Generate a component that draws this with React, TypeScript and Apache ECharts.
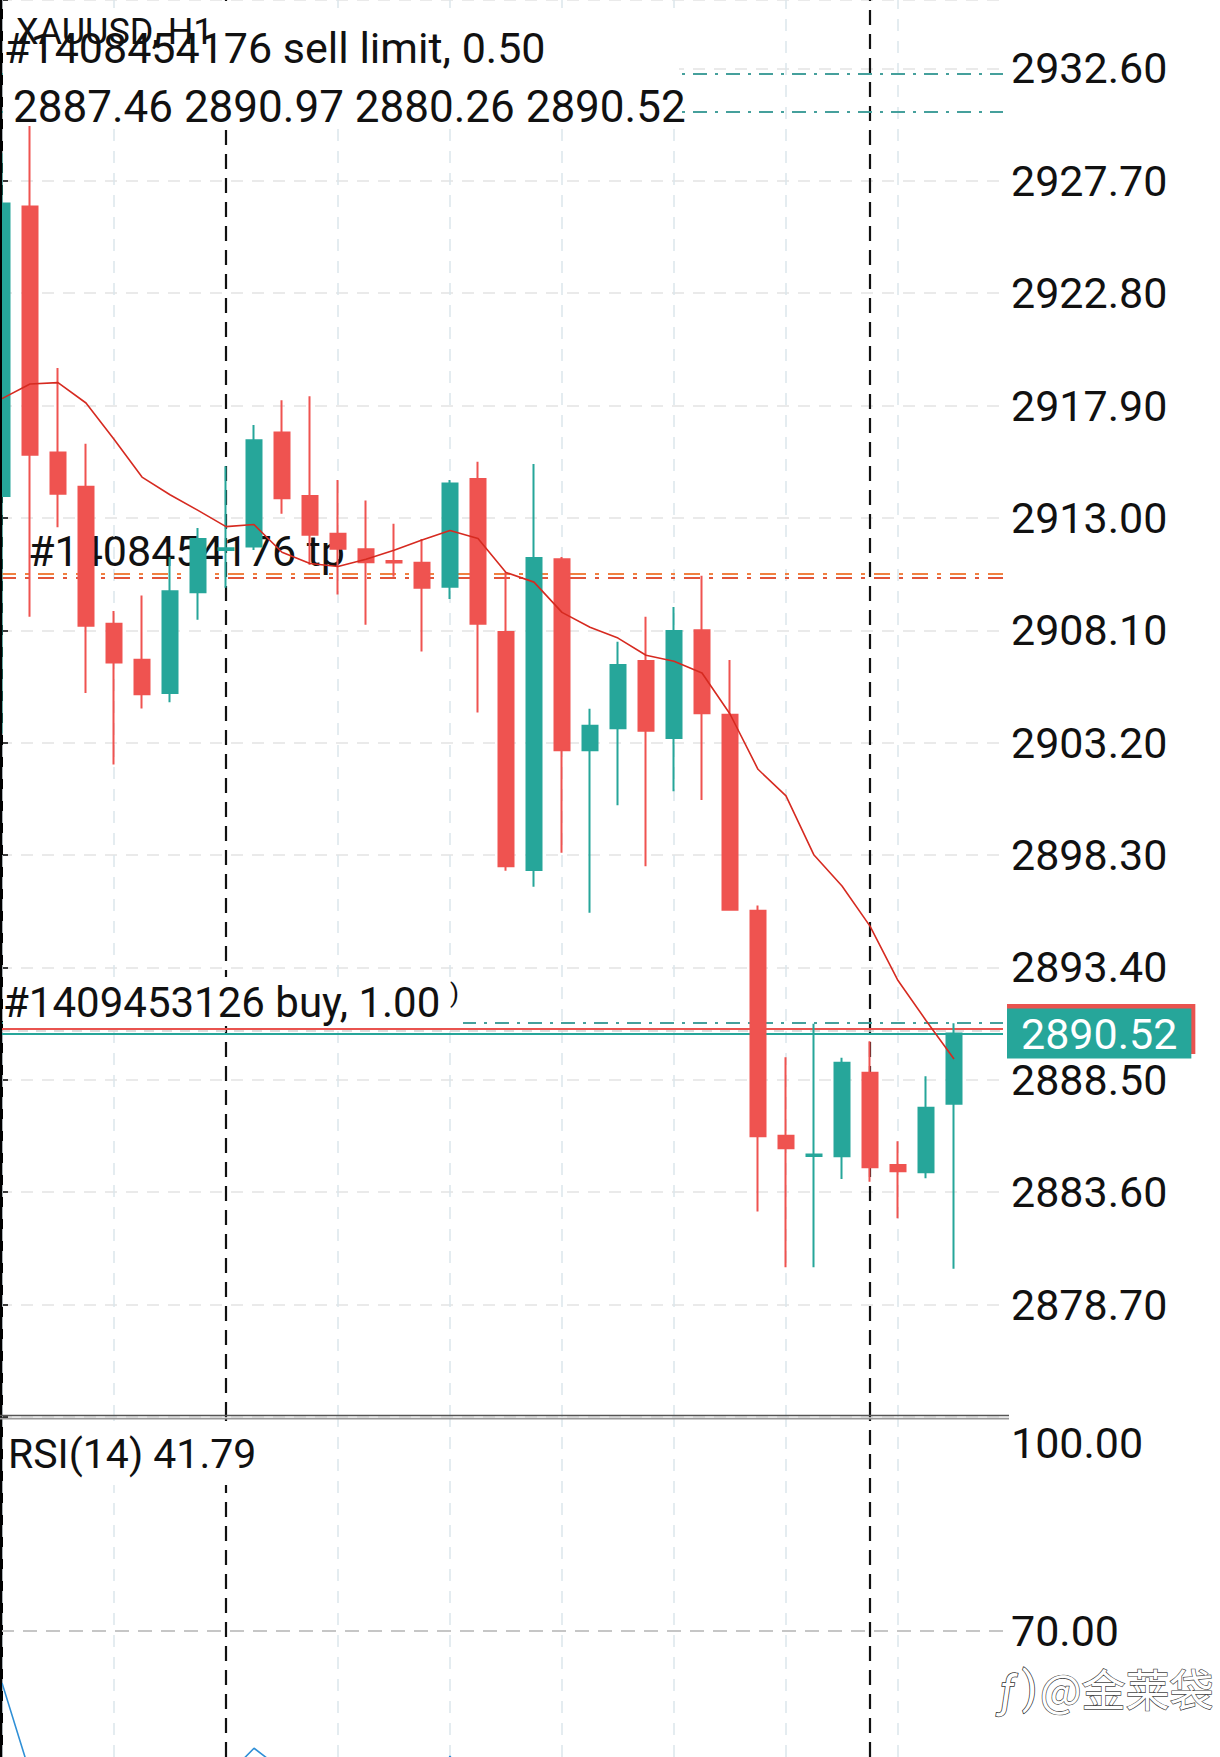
import { useEffect, useRef } from 'react';
import * as echarts from 'echarts';

// ---- data (bars 0..34, hourly XAUUSD) ----
const opens = [2913.95, 2926.58, 2915.85, 2914.36, 2908.38, 2906.82, 2905.37, 2909.76, 2911.6, 2911.75,
  2916.72, 2913.95, 2912.31, 2911.63, 2911.12, 2911.05, 2910.0, 2914.7, 2908.02, 2897.65,
  2911.2, 2902.87, 2903.83, 2906.76, 2903.4, 2908.1, 2904.42, 2895.87, 2886.06, 2885.18,
  2885.17, 2888.81, 2884.79, 2884.47, 2887.46];
const highs = [2928.9, 2930.35, 2919.54, 2916.23, 2908.94, 2909.62, 2911.3, 2912.56, 2915.25, 2917.05,
  2918.13, 2918.3, 2914.65, 2913.76, 2912.75, 2912.08, 2914.65, 2915.45, 2910.63, 2915.35,
  2911.3, 2904.68, 2907.6, 2908.69, 2909.12, 2910.48, 2906.81, 2896.1, 2889.49, 2890.94,
  2889.46, 2890.18, 2885.82, 2888.66, 2890.97];
const lows = [2903.6, 2908.69, 2912.59, 2905.37, 2902.25, 2904.69, 2904.96, 2908.56, 2909.95, 2911.6,
  2913.18, 2910.96, 2909.66, 2908.34, 2910.43, 2907.18, 2909.46, 2904.52, 2897.62, 2896.92,
  2898.4, 2895.79, 2900.47, 2897.81, 2901.08, 2900.7, 2895.9, 2882.76, 2880.33, 2880.33,
  2884.18, 2884.06, 2882.46, 2884.21, 2880.26];
const closes = [2926.71, 2915.75, 2914.05, 2908.3, 2906.7, 2905.31, 2909.8, 2912.08, 2911.68, 2916.39,
  2913.86, 2912.27, 2911.65, 2911.07, 2911.06, 2909.95, 2914.5, 2908.38, 2897.81, 2911.25,
  2902.87, 2903.94, 2906.59, 2903.72, 2908.07, 2904.48, 2895.92, 2886.04, 2885.52, 2885.24,
  2889.24, 2884.69, 2884.51, 2887.28, 2890.52];
const maValues = [2918.2, 2918.84, 2918.9, 2918.01, 2916.43, 2914.78, 2914.01, 2913.33, 2912.62, 2912.71,
  2911.5, 2911.01, 2910.88, 2911.2, 2911.59, 2912.04, 2912.45, 2912.1, 2910.62, 2910.2,
  2908.88, 2908.23, 2907.76, 2907.01, 2906.75, 2906.24, 2904.45, 2902.04, 2900.88, 2898.3,
  2896.95, 2895.2, 2892.83, 2891.09, 2889.41];
const rsiValues = [62.7, 50, 47, 42, 39, 38, 43, 47, 49.5, 53.5,
  50.5, 48, 46, 45, 45, 43, 52.4, 45, 36, 50,
  42, 43, 46, 43, 47.5, 44, 35, 27, 27, 27.5,
  33, 30, 29.5, 35, 41.79];

const gridBars = [0, 4, 12, 16, 20, 24, 28, 32];
const separatorBars = [8, 31];
const sellLimitLevels = [2932.38, 2930.71];
const tpLevels = [2910.56, 2910.4];
const buyTpLevel = 2891.0;
const askPrice = 2890.72;
const entryPrice = 2890.62;
const bidPrice = 2890.52;
const rsiLevels = [70];
const rsiLabelValues = [70];
const rsiTickValues = [70, 100];
const priceMin = 2873.8;
const priceMax = 2935.58;
const priceStep = 4.9;
const rsiMin = 52.27;
const rsiMax = 100;

const FONT = 'Roboto, "Noto Sans", sans-serif';
const TEAL = '#26a69a';
const RED = '#ef5350';

export default function App() {
  const ref = useRef<HTMLDivElement>(null);

  useEffect(() => {
    if (!ref.current) return;
    const chart = echarts.init(ref.current, null, { renderer: 'svg' });

    const barPx = 28;
    const plotW = 1003;
    const xMin = -2 / barPx;
    const xMax = xMin + plotW / barPx;

    const vGrid = (color: string) =>
      gridBars.map((b) => ({ xAxis: b, lineStyle: { color, type: [12, 10], width: 1.5 } }));
    const vSep = () =>
      separatorBars.map((b) => ({ xAxis: b, lineStyle: { color: '#111', type: [15, 9], width: 2.2 } }));

    const dashDot = [16, 9, 4, 9];
    const tealDashDot = [14, 8, 3, 8];

    const candleData = opens.map((o, i) => [i, o, closes[i], lows[i], highs[i]]);

    const option: any = {
      animation: false,
      backgroundColor: '#ffffff',
      textStyle: { fontFamily: FONT },
      grid: [
        { left: 0, top: 0, width: plotW, height: 1417, containLabel: false, outerBoundsMode: 'none' },
        { left: 0, top: 1417.8, width: plotW, height: 339.2, containLabel: false, outerBoundsMode: 'none' },
      ],
      xAxis: [
        { type: 'value', gridIndex: 0, min: xMin, max: xMax, show: false },
        { type: 'value', gridIndex: 1, min: xMin, max: xMax, show: false },
      ],
      yAxis: [
        {
          type: 'value',
          gridIndex: 0,
          position: 'right',
          min: priceMin,
          max: priceMax,
          interval: priceStep,
          showMinLabel: false,
          showMaxLabel: false,
          axisLine: { show: true, lineStyle: { color: '#000', width: 2 } },
          axisTick: { show: true, length: 6, lineStyle: { color: '#000', width: 1.5 } },
          axisLabel: {
            margin: 8,
            color: '#111',
            fontSize: 43,
            fontFamily: FONT,
            formatter: (v: number) =>
              v <= priceMin + 0.01 || v >= priceMax - 0.01 ? '' : v.toFixed(2),
          },
          splitLine: { show: true, lineStyle: { color: '#e4e4e4', type: [12, 9], width: 1.5 } },
        },
        {
          type: 'value',
          gridIndex: 1,
          position: 'right',
          min: rsiMin,
          max: rsiMax,
          axisLine: { show: true, lineStyle: { color: '#000', width: 2 } },
          axisTick: { show: true, length: 6, customValues: rsiTickValues, lineStyle: { color: '#000', width: 1.5 } },
          axisLabel: {
            margin: 8,
            color: '#111',
            fontSize: 43,
            fontFamily: FONT,
            customValues: rsiLabelValues,
            formatter: (v: number) => v.toFixed(2),
          },
          splitLine: { show: false },
        },
      ],
      series: [
        {
          name: 'XAUUSD',
          type: 'candlestick',
          xAxisIndex: 0,
          yAxisIndex: 0,
          data: candleData,
          barWidth: 16,
          z: 3,
          itemStyle: {
            color: TEAL,
            color0: RED,
            borderColor: TEAL,
            borderColor0: RED,
            borderWidth: 2,
          },
        },
        {
          name: 'MA',
          type: 'line',
          xAxisIndex: 0,
          yAxisIndex: 0,
          data: maValues.map((v, i) => [i, v]),
          symbol: 'none',
          z: 4,
          lineStyle: { color: '#d62a20', width: 1.6 },
          markLine: {
            z: 1,
            silent: true,
            animation: false,
            symbol: ['none', 'none'],
            label: { show: false },
            data: [
              ...vGrid('#dce6eb'),
              ...vSep(),
              ...sellLimitLevels.map((v) => ({ yAxis: v, lineStyle: { color: '#45a09c', type: tealDashDot, width: 2 } })),
              { yAxis: tpLevels[0], lineStyle: { color: '#f08040', type: dashDot, width: 2.2 } },
              { yAxis: tpLevels[1], lineStyle: { color: '#e2553a', type: dashDot, width: 2.2 } },
              { yAxis: buyTpLevel, lineStyle: { color: '#45a09c', type: tealDashDot, width: 2 } },
              {
                yAxis: askPrice,
                lineStyle: { color: '#e9534f', type: 'solid', width: 2 },
                label: {
                  show: true,
                  position: 'end',
                  distance: 4,
                  formatter: askPrice.toFixed(2),
                  color: '#ffffff',
                  fontSize: 43,
                  fontFamily: FONT,
                  lineHeight: 44,
                  backgroundColor: '#e9534f',
                  padding: [3, 18, 3, 14],
                },
              },
              { yAxis: entryPrice, lineStyle: { color: '#d4d4d4', type: [10, 8], width: 1.5 } },
              {
                yAxis: bidPrice,
                lineStyle: { color: TEAL, type: 'solid', width: 2.2 },
                label: {
                  show: true,
                  position: 'end',
                  distance: 4,
                  formatter: bidPrice.toFixed(2),
                  color: '#ffffff',
                  fontSize: 43,
                  fontFamily: FONT,
                  lineHeight: 44,
                  backgroundColor: TEAL,
                  padding: [3, 14, 3, 14],
                },
              },
            ],
          },
        },
        {
          name: 'RSI(14)',
          type: 'line',
          xAxisIndex: 1,
          yAxisIndex: 1,
          data: rsiValues.map((v, i) => [i, v]),
          symbol: 'none',
          clip: true,
          z: 4,
          lineStyle: { color: '#2f8fd6', width: 1.6 },
          markLine: {
            z: 1,
            silent: true,
            animation: false,
            symbol: ['none', 'none'],
            label: { show: false },
            data: [
              ...vGrid('#dce6eb'),
              ...vSep(),
              ...rsiLevels.map((v) => ({ yAxis: v, lineStyle: { color: '#c6c6c6', type: [14, 9], width: 2 } })),
            ],
          },
        },
      ],
      graphic: [
        // frame
        { type: 'line', z: 12, shape: { x1: 1, y1: 0, x2: 1, y2: 1757 }, style: { stroke: '#000', lineWidth: 2 } },
        { type: 'line', z: 12, shape: { x1: 0, y1: 1415.5, x2: 1009, y2: 1415.5 }, style: { stroke: '#555', lineWidth: 1.6 } },
        { type: 'line', z: 12, shape: { x1: 0, y1: 1418.6, x2: 1009, y2: 1418.6 }, style: { stroke: '#9a9a9a', lineWidth: 1.6 } },
        // header block
        { type: 'rect', z: 10, shape: { x: 3, y: 8, width: 676, height: 118 }, style: { fill: '#fff' } },
        {
          type: 'text', z: 11, x: 16, y: 32,
          style: { text: 'XAUUSD, H1', fill: '#111', fontSize: 36, fontFamily: FONT, verticalAlign: 'middle', align: 'left' },
        },
        {
          type: 'text', z: 11, x: 4, y: 48,
          style: { text: '#1408454176 sell limit, 0.50', fill: '#111', fontSize: 43, fontFamily: FONT, verticalAlign: 'middle', align: 'left' },
        },
        {
          type: 'text', z: 11, x: 13, y: 107,
          style: {
            text: `${opens[34].toFixed(2)} ${highs[34].toFixed(2)} ${lows[34].toFixed(2)} ${closes[34].toFixed(2)}`,
            fill: '#111', fontSize: 44, fontFamily: FONT, verticalAlign: 'middle', align: 'left',
          },
        },
        // tp label (under candles)
        {
          type: 'text', z: 0, x: 28, y: 551,
          style: { text: '#1408454176 tp', fill: '#111', fontSize: 43, fontFamily: FONT, verticalAlign: 'middle', align: 'left' },
        },
        // buy label
        { type: 'rect', z: 10, shape: { x: 3, y: 977, width: 460, height: 49 }, style: { fill: '#fff' } },
        {
          type: 'text', z: 11, x: 3, y: 1002,
          style: { text: '#1409453126 buy, 1.00', fill: '#111', fontSize: 42, fontFamily: FONT, verticalAlign: 'middle', align: 'left' },
        },
        {
          type: 'text', z: 11, x: 450, y: 993,
          style: { text: ')', fill: '#111', fontSize: 26, fontFamily: FONT, verticalAlign: 'middle', align: 'left' },
        },
        // RSI label
        { type: 'rect', z: 10, shape: { x: 3, y: 1421, width: 250, height: 64 }, style: { fill: '#fff' } },
        {
          type: 'text', z: 11, x: 8, y: 1454,
          style: { text: `RSI(14) ${rsiValues[34].toFixed(2)}`, fill: '#111', fontSize: 41, fontFamily: FONT, verticalAlign: 'middle', align: 'left' },
        },
        {
          type: 'text', z: 11, x: 1011, y: 1443,
          style: { text: '100.00', fill: '#111', fontSize: 43, fontFamily: FONT, verticalAlign: 'middle', align: 'left' },
        },
        // watermark
        {
          type: 'text', z: 20, x: 1000, y: 1692,
          style: { text: 'ƒ', fill: '#fff', stroke: '#333', lineWidth: 1.5, fontSize: 44, fontFamily: FONT, fontStyle: 'italic', verticalAlign: 'middle', align: 'left' },
        },
        {
          type: 'text', z: 20, x: 1022, y: 1688,
          style: { text: ')', fill: '#fff', stroke: '#333', lineWidth: 1.5, fontSize: 44, fontFamily: FONT, verticalAlign: 'middle', align: 'left' },
        },
        {
          type: 'text', z: 20, x: 1040, y: 1688,
          style: {
            text: '@金莱袋', fill: '#fff', stroke: '#444', lineWidth: 1.3, fontSize: 44,
            fontFamily: '"Noto Sans CJK SC", sans-serif', verticalAlign: 'middle', align: 'left',
          },
        },
      ],
    };

    chart.setOption(option);
    return () => chart.dispose();
  }, []);

  return (
    <div
      ref={ref}
      style={{ position: 'absolute', left: 0, top: 0, width: 1220, height: 1757, background: '#fff' }}
    />
  );
}
